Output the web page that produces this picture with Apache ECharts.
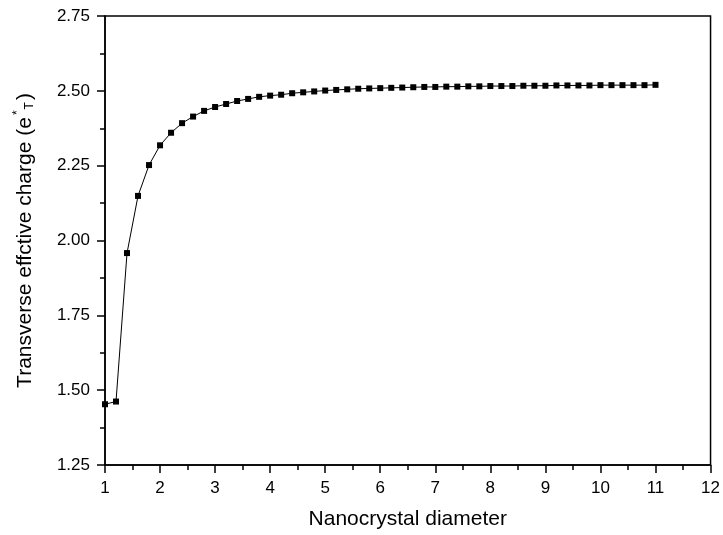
<!DOCTYPE html>
<html>
<head>
<meta charset="utf-8">
<script src="https://cdn.jsdelivr.net/npm/echarts@6/dist/echarts.min.js"></script>
<style>
  html, body { margin: 0; padding: 0; background: #fff; }
  #chart { width: 723px; height: 535px; }
</style>
</head>
<body>
<div id="chart"></div>
<script>
// nanocrystal diameter, step 0.2
const diameters = [
  1.0, 1.2, 1.4, 1.6, 1.8, 2.0, 2.2, 2.4, 2.6, 2.8,
  3.0, 3.2, 3.4, 3.6, 3.8, 4.0, 4.2, 4.4, 4.6, 4.8,
  5.0, 5.2, 5.4, 5.6, 5.8, 6.0, 6.2, 6.4, 6.6, 6.8,
  7.0, 7.2, 7.4, 7.6, 7.8, 8.0, 8.2, 8.4, 8.6, 8.8,
  9.0, 9.2, 9.4, 9.6, 9.8, 10.0, 10.2, 10.4, 10.6, 10.8,
  11.0
]
// transverse effective charge
const charges = [
  1.453, 1.462, 1.958, 2.149, 2.252, 2.318, 2.360, 2.392, 2.414, 2.433,
  2.446, 2.456, 2.466, 2.473, 2.480, 2.484, 2.487, 2.492, 2.495, 2.498,
  2.501, 2.503, 2.505, 2.507, 2.508, 2.509, 2.510, 2.511, 2.512, 2.513,
  2.513, 2.514, 2.514, 2.515, 2.515, 2.516, 2.516, 2.516, 2.517, 2.517,
  2.517, 2.518, 2.518, 2.518, 2.518, 2.519, 2.519, 2.519, 2.519, 2.519,
  2.520
]

const font = 'Liberation Sans, Arial, sans-serif'

const chart = echarts.init(document.getElementById('chart'))

chart.setOption({
  animation: false,
  grid: {
    left: 105,
    right: 11,
    top: 16,
    bottom: 68,
    show: true,
    borderColor: '#000',
    borderWidth: 1.5
  },
  xAxis: {
    type: 'value',
    min: 1,
    max: 12,
    interval: 1,
    name: 'Nanocrystal diameter',
    nameLocation: 'middle',
    nameGap: 44,
    nameTextStyle: { color: '#000', fontFamily: font, fontSize: 21 },
    axisLine: { lineStyle: { color: '#000', width: 1.5 } },
    axisTick: { length: 8, lineStyle: { color: '#000', width: 1.5 } },
    minorTick: { show: true, splitNumber: 2, length: 5, lineStyle: { color: '#000', width: 1.5 } },
    axisLabel: { color: '#000', fontFamily: font, fontSize: 17, margin: 15 },
    splitLine: { show: false }
  },
  yAxis: {
    type: 'value',
    min: 1.25,
    max: 2.75,
    interval: 0.25,
    name: '{n|Transverse effctive charge (e}{sup|*}{sub|T}{n|)}',
    nameLocation: 'middle',
    nameGap: 67,
    nameTextStyle: {
      color: '#000',
      fontFamily: font,
      fontSize: 21,
      rich: {
        n: { fontFamily: font, fontSize: 21, color: '#000' },
        sup: { fontFamily: font, fontSize: 12, color: '#000', padding: [0, 1, 14, 2] },
        sub: { fontFamily: font, fontSize: 12, color: '#000', padding: [10, 2, 0, 0] }
      }
    },
    axisLine: { lineStyle: { color: '#000', width: 1.5 } },
    axisTick: { length: 8, lineStyle: { color: '#000', width: 1.5 } },
    minorTick: { show: true, splitNumber: 2, length: 5, lineStyle: { color: '#000', width: 1.5 } },
    axisLabel: {
      color: '#000',
      fontFamily: font,
      fontSize: 17,
      margin: 15,
      formatter: v => v.toFixed(2)
    },
    splitLine: { show: false }
  },
  series: [{
    type: 'line',
    data: diameters.map((d, i) => [d, charges[i]]),
    symbol: 'rect',
    symbolSize: 6,
    lineStyle: { color: '#000', width: 1 },
    itemStyle: { color: '#000' }
  }]
})
</script>
</body>
</html>
